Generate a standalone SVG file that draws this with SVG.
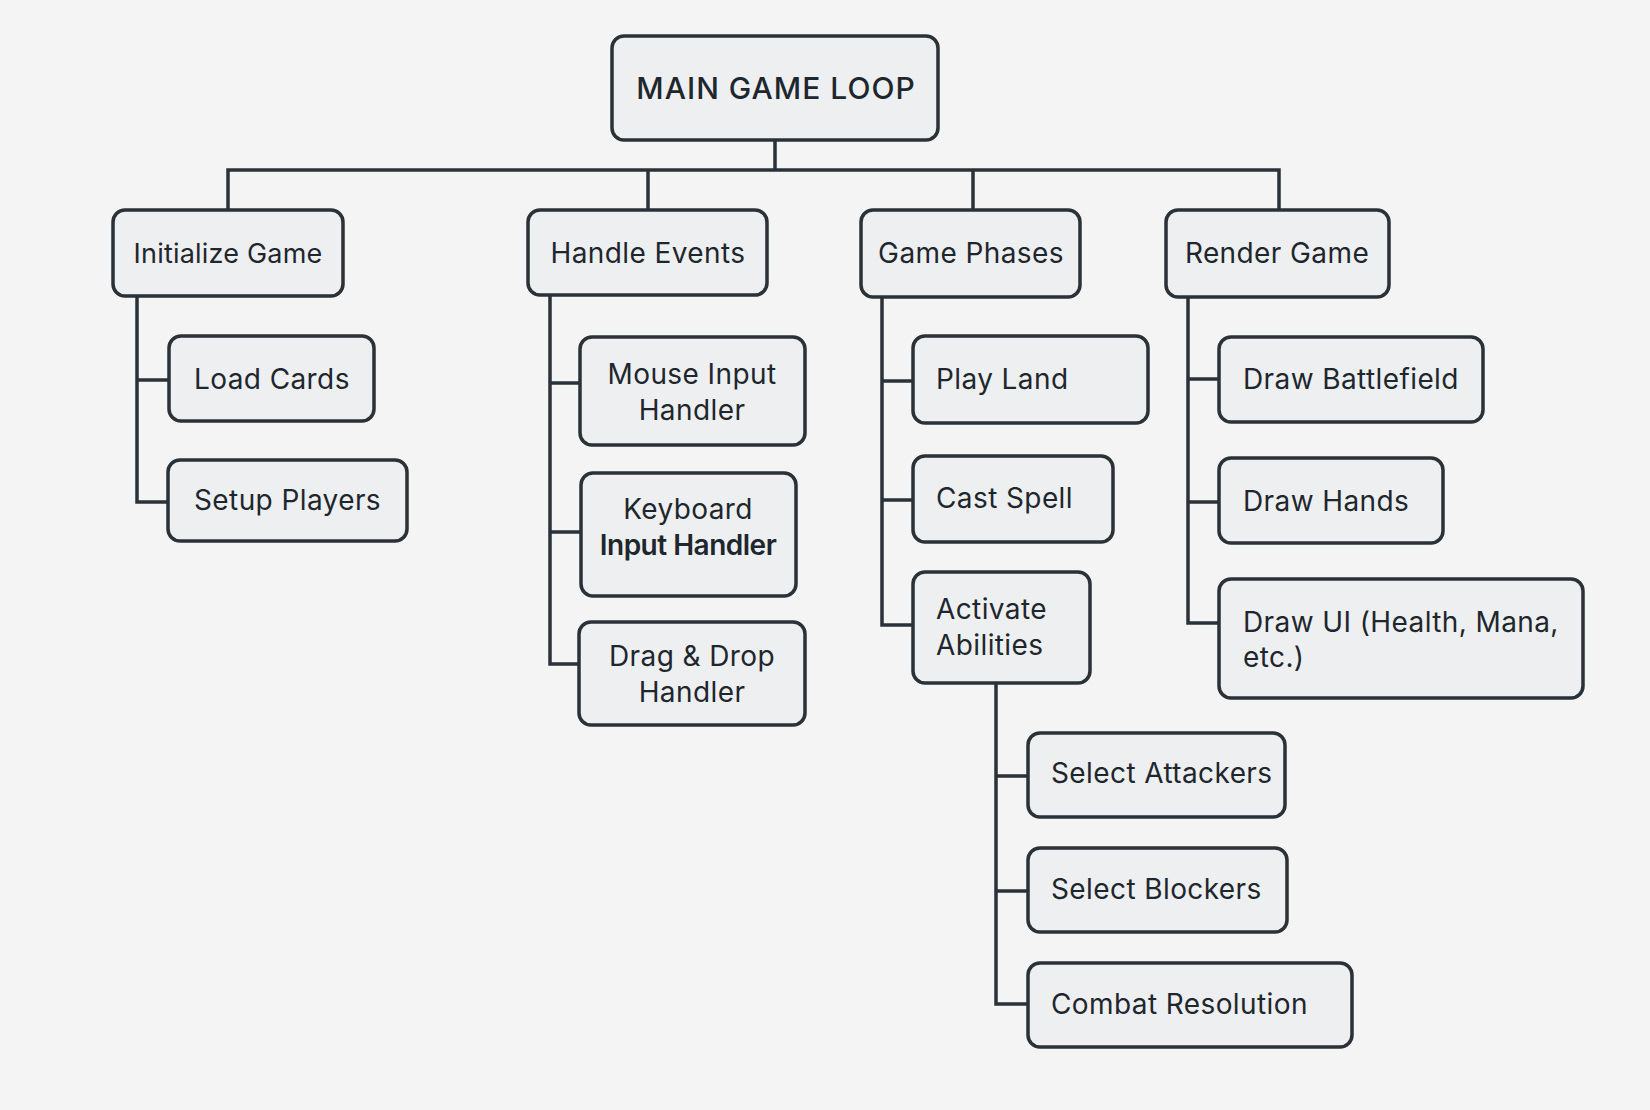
<svg xmlns="http://www.w3.org/2000/svg" width="1650" height="1110" viewBox="0 0 1650 1110">
<style>
.bg{fill:#f4f4f4}
.box{fill:#eeeff1;stroke:#2a3238;stroke-width:3.5}
.t{font-family:Inter,"Noto Sans","Liberation Sans",sans-serif;font-size:28px;letter-spacing:0.4px;fill:#1e272d}
.c{text-anchor:middle}
.ln{fill:none;stroke:#2a3238;stroke-width:3.5;stroke-linejoin:miter}
</style>
<rect class="bg" x="0" y="0" width="1650" height="1110"/>
<g id="connectors">
<path class="ln" d="M775 140 V170 M228 210 V170 H1279 V210 M648 170 V210 M973 170 V210"/>
<path class="ln" d="M137 296 V502 H168 M137 380 H169"/>
<path class="ln" d="M550 295 V664 H579 M550 383 H580 M550 532 H581"/>
<path class="ln" d="M882 297 V625 H913 M882 381 H913 M882 500 H913"/>
<path class="ln" d="M996 683 V1004 H1028 M996 776 H1028 M996 891 H1028"/>
<path class="ln" d="M1188 297 V623 H1219 M1188 379 H1219 M1188 502 H1219"/>
</g>
<g id="main"><rect class="box" x="612" y="36" width="326" height="104" rx="12"/><text class="t c" x="776" y="99" style="font-size:30px;font-weight:500;letter-spacing:1px">MAIN GAME LOOP</text></g>
<g id="init"><rect class="box" x="113" y="210" width="230" height="86" rx="12"/><text class="t c" x="228" y="263" style="font-size:27px;letter-spacing:0.2px">Initialize Game</text></g>
<g id="load"><rect class="box" x="169" y="336" width="205" height="85" rx="12"/><text class="t" x="194" y="389">Load Cards</text></g>
<g id="setup"><rect class="box" x="168" y="460" width="239" height="81" rx="12"/><text class="t" x="194" y="510">Setup Players</text></g>
<g id="events"><rect class="box" x="528" y="210" width="239" height="85" rx="12"/><text class="t c" x="648" y="263">Handle Events</text></g>
<g id="mouse"><rect class="box" x="580" y="337" width="225" height="108" rx="12"/><text class="t c" x="692" y="384">Mouse Input</text><text class="t c" x="692" y="420">Handler</text></g>
<g id="keyboard"><rect class="box" x="581" y="473" width="215" height="123" rx="12"/><text class="t c" x="688" y="519">Keyboard</text><text class="t c" x="688" y="555" style="font-weight:600;letter-spacing:-0.5px">Input Handler</text></g>
<g id="drag"><rect class="box" x="579" y="622" width="226" height="103" rx="12"/><text class="t c" x="692" y="666">Drag &amp; Drop</text><text class="t c" x="692" y="702">Handler</text></g>
<g id="phases"><rect class="box" x="861" y="210" width="219" height="87" rx="12"/><text class="t c" x="971" y="263">Game Phases</text></g>
<g id="land"><rect class="box" x="913" y="336" width="235" height="87" rx="12"/><text class="t" x="936" y="389">Play Land</text></g>
<g id="spell"><rect class="box" x="913" y="456" width="200" height="86" rx="12"/><text class="t" x="936" y="508">Cast Spell</text></g>
<g id="activate"><rect class="box" x="913" y="572" width="177" height="111" rx="12"/><text class="t" x="936" y="619">Activate</text><text class="t" x="936" y="655">Abilities</text></g>
<g id="attackers"><rect class="box" x="1028" y="733" width="257" height="84" rx="12"/><text class="t" x="1051" y="783">Select Attackers</text></g>
<g id="blockers"><rect class="box" x="1028" y="848" width="259" height="84" rx="12"/><text class="t" x="1051" y="899">Select Blockers</text></g>
<g id="combat"><rect class="box" x="1028" y="963" width="324" height="84" rx="12"/><text class="t" x="1051" y="1014">Combat Resolution</text></g>
<g id="render"><rect class="box" x="1166" y="210" width="223" height="87" rx="12"/><text class="t c" x="1277" y="263">Render Game</text></g>
<g id="battlefield"><rect class="box" x="1219" y="337" width="264" height="85" rx="12"/><text class="t" x="1243" y="389">Draw Battlefield</text></g>
<g id="hands"><rect class="box" x="1219" y="458" width="224" height="85" rx="12"/><text class="t" x="1243" y="511">Draw Hands</text></g>
<g id="ui"><rect class="box" x="1219" y="579" width="364" height="119" rx="12"/><text class="t" x="1243" y="632">Draw UI (Health, Mana,</text><text class="t" x="1243" y="667">etc.)</text></g>
</svg>
